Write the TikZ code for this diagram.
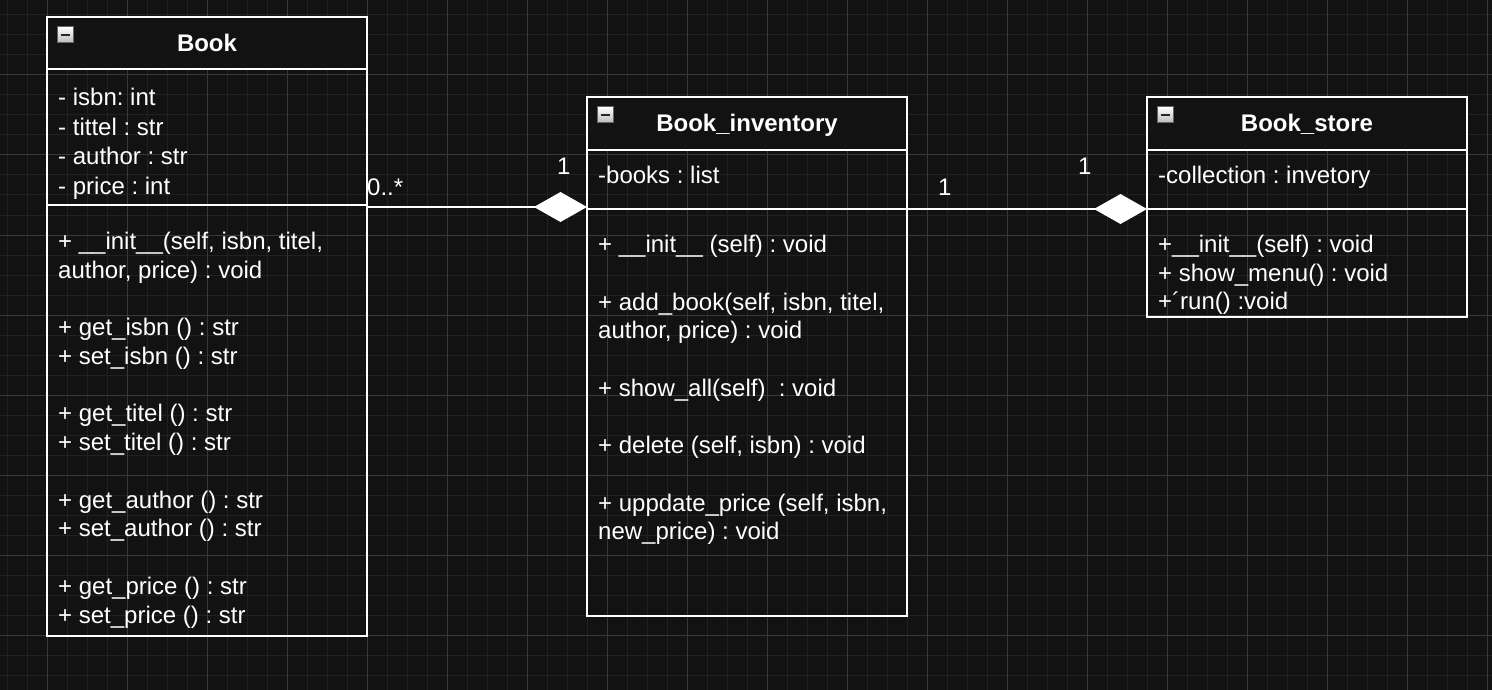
\documentclass[tikz,border=0pt]{standalone}
\usepackage{fontspec}
\setmainfont{Liberation Sans}
\usetikzlibrary{arrows.meta}
\frenchspacing
\definecolor{bg}{HTML}{121212}
\definecolor{gminor}{HTML}{212121}
\definecolor{gmajor}{HTML}{383838}
\tikzset{
  gridminor/.style={draw=gminor, line width=1pt},
  gridmajor/.style={draw=gmajor, line width=1pt},
  clsbox/.style={draw=white, line width=2pt, inner sep=0pt, outer sep=0pt},
  sepline/.style={draw=white, line width=2pt},
  titletxt/.style={text=white, font=\fontsize{24}{29}\selectfont\bfseries, anchor=base, inner sep=0pt},
  txt/.style={text=white, font=\fontsize{24}{29}\selectfont, anchor=base west, inner sep=0pt},
  mult/.style={text=white, font=\fontsize{24}{29}\selectfont, anchor=base west, inner sep=0pt},
  comp/.style={draw=white, line width=2pt, -{Diamond[length=53pt,width=30pt,fill=white]}},
  collapse/.style={draw=gray!80!black, line width=1pt, top color=white, bottom color=gray!55, minimum size=16pt, inner sep=0pt, outer sep=0pt, anchor=north west},
  minus/.style={draw=black!85, line width=2pt},
}
\begin{document}
\begin{tikzpicture}[x=1pt,y=-1pt]
\useasboundingbox (0,0) rectangle (1492,690);
\fill[bg] (0,0) rectangle (1492,690);
% grid
\foreach \x in {7,27,...,1492} \draw[gridminor] (\x,0) -- (\x,690);
\foreach \y in {15,35,...,690} \draw[gridminor] (0,\y) -- (1492,\y);
\foreach \x in {47,127,...,1492} \draw[gridmajor] (\x,0) -- (\x,690);
\foreach \y in {75,155,...,690} \draw[gridmajor] (0,\y) -- (1492,\y);

% header fills
\fill[bg] (47,17) rectangle (367,69);
\fill[bg] (587,97) rectangle (907,150);
\fill[bg] (1147,97) rectangle (1467,150);

% class boxes
\node[clsbox, minimum width=320pt, minimum height=619pt, anchor=north west] (book) at (47,17) {};
\node[clsbox, minimum width=320pt, minimum height=519pt, anchor=north west] (inv) at (587,97) {};
\node[clsbox, minimum width=320pt, minimum height=220pt, anchor=north west] (store) at (1147,97) {};

% separators
\draw[sepline] (book.west |- 0,69) -- (book.east |- 0,69);
\draw[sepline] (book.west |- 0,205) -- (book.east |- 0,205);
\draw[sepline] (inv.west |- 0,150) -- (inv.east |- 0,150);
\draw[sepline] (inv.west |- 0,209) -- (inv.east |- 0,209);
\draw[sepline] (store.west |- 0,150) -- (store.east |- 0,150);
\draw[sepline] (store.west |- 0,209) -- (store.east |- 0,209);

% collapse icons
\node[collapse] (bookicon) at (57,27) {};
\draw[minus] ([xshift=3.5pt]bookicon.west) -- ([xshift=-3.5pt]bookicon.east);
\node[collapse] (invicon) at (597,107) {};
\draw[minus] ([xshift=3.5pt]invicon.west) -- ([xshift=-3.5pt]invicon.east);
\node[collapse] (storeicon) at (1157,107) {};
\draw[minus] ([xshift=3.5pt]storeicon.west) -- ([xshift=-3.5pt]storeicon.east);

% titles
\node[titletxt] (booktitle) at (207,52) {Book};
\node[titletxt] (invtitle) at (747,132) {Book\_inventory};
\node[titletxt] (storetitle) at (1307,132) {Book\_store};

% Book attributes
\node[txt] (ba1) at (58,105.5) {- isbn: int};
\node[txt] (ba2) at (58,135.2) {- tittel : str};
\node[txt] (ba3) at (58,164.9) {- author : str};
\node[txt] (ba4) at (58,194) {- price : int};
% Book methods
\node[txt] (bm1) at (58,249.5) {+ \_\_init\_\_(self, isbn, titel,};
\node[txt] (bm2) at (58,278.2) {author, price) : void};
\node[txt] (bm3) at (58,335.5) {+ get\_isbn () : str};
\node[txt] (bm4) at (58,364.2) {+ set\_isbn () : str};
\node[txt] (bm5) at (58,421.8) {+ get\_titel () : str};
\node[txt] (bm6) at (58,450.5) {+ set\_titel () : str};
\node[txt] (bm7) at (58,508.1) {+ get\_author () : str};
\node[txt] (bm8) at (58,536.8) {+ set\_author () : str};
\node[txt] (bm9) at (58,594.4) {+ get\_price () : str};
\node[txt] (bm10) at (58,623.1) {+ set\_price () : str};

% Inventory
\node[txt] (ia1) at (598,184) {-books : list};
\node[txt] (im1) at (598,252.5) {+ \_\_init\_\_ (self) : void};
\node[txt] (im2) at (598,310) {+ add\_book(self, isbn, titel,};
\node[txt] (im3) at (598,338.7) {author, price) : void};
\node[txt] (im4) at (598,396.2) {+ show\_all(self)\ \ : void};
\node[txt] (im5) at (598,453.7) {+ delete (self, isbn) : void};
\node[txt] (im6) at (598,511.2) {+ uppdate\_price (self, isbn,};
\node[txt] (im7) at (598,539.9) {new\_price) : void};

% Store
\node[txt] (sa1) at (1158,184) {-collection : invetory};
\node[txt] (sm1) at (1158,252.5) {+\_\_init\_\_(self) : void};
\node[txt] (sm2) at (1158,281.2) {+ show\_menu() : void};
\node[txt] (sm3) at (1158,309.9) {+´run() :void};

% connectors
\draw[comp] (book.east |- 0,207) -- (inv.west |- 0,207);
\draw[comp] (inv.east |- 0,209) -- (store.west |- 0,209);

% multiplicities
\node[mult] (m1) at (367,196) {0..*};
\node[mult] (m2) at (557,175) {1};
\node[mult] (m3) at (938,196) {1};
\node[mult] (m4) at (1078,175) {1};
\end{tikzpicture}
\end{document}
